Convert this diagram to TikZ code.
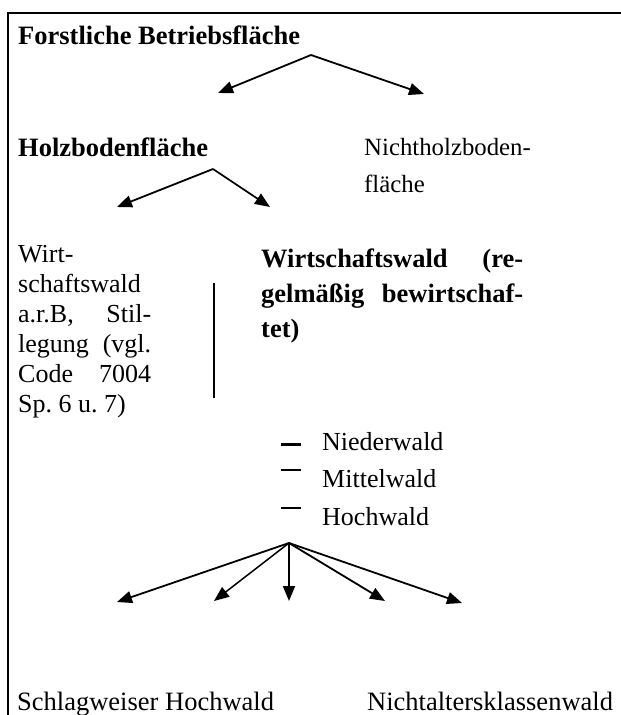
\documentclass[tikz,border=0pt]{standalone}
\usepackage{fontspec}
\setmainfont{Liberation Serif}
\usetikzlibrary{arrows.meta}
\tikzset{
  txt/.style={anchor=base west, inner sep=0pt, font=\fontsize{26}{30}\selectfont\frenchspacing},
  fett/.style={txt, font=\fontsize{26.5}{35}\selectfont\frenchspacing\bfseries},
  pfeil/.style={-{Triangle[length=15pt,width=12pt]}, line width=1.8pt},
}
\begin{document}
\begin{tikzpicture}[x=1pt, y=-1pt]
\useasboundingbox (0,0) rectangle (621,715);
% Rahmen
\draw [line width=2pt] (7.5,715)--(7.5,12.5)--(621,12.5);
% Texte
\node[fett] (forst) at (18,44) {Forstliche Betriebsfläche};
\node[fett] (holz) at (18,156) {Holzbodenfläche};
\node[txt, text width=220pt, align=left, font=\fontsize{24.8}{37}\selectfont] (nicht) at (364,155) {\spaceskip=0pt Nichtholzboden-\\fläche};
\node[txt, text width=133pt, align=left] (stil) at (18,262) {\spaceskip=0pt Wirt-\\schaftswald\\a.r.B,\hfill Stil-\\legung\hfill (vgl.\\Code\hfill 7004\\Sp. 6 u. 7)};
\node[fett, text width=262pt, align=left] (wiwa) at (261,267) {\spaceskip=0pt Wirtschaftswald\hfill (re-\\gelmäßig\hfill bewirtschaf-\\tet)};
\node[txt] (nieder) at (322,450) {Niederwald};
\node[txt] (mittel) at (322,487) {Mittelwald};
\node[txt] (hoch) at (322,525) {Hochwald};
\node[txt, font=\fontsize{26.5}{30}\selectfont] (schlag) at (17,710) {Schlagweiser Hochwald};
\node[txt, font=\fontsize{26.5}{30}\selectfont] (nak) at (367,710) {Nichtaltersklassenwald};
% Pfeile oben
\coordinate (fs) at (311,55);
\coordinate (fl) at (218,93);
\coordinate (fr) at (424,94);
\draw [pfeil] (fs)--(fl);
\draw [pfeil] (fs)--(fr);
\coordinate (hs) at (213,169);
\coordinate (hl) at (117,207);
\coordinate (hr) at (270,207);
\draw [pfeil] (hs)--(hl);
\draw [pfeil] (hs)--(hr);
% Strich und Spiegelstriche
\draw [line width=2pt] (214,283)--(214,398);
\draw [line width=3pt] (281,444)--(301,444);
\draw [line width=2.5pt] (281,470)--(301,470);
\draw [line width=1.8pt] (281,508)--(301,508);
% Pfeile unten
\coordinate (ws) at (289,543);
\draw [pfeil] (ws)--(117,602);
\draw [pfeil, line width=1.5pt] (ws)--(214,601);
\draw [pfeil] (ws)--(289,601);
\draw [pfeil] (ws)--(385,601);
\draw [pfeil] (ws)--(462,603);
\end{tikzpicture}
\end{document}
